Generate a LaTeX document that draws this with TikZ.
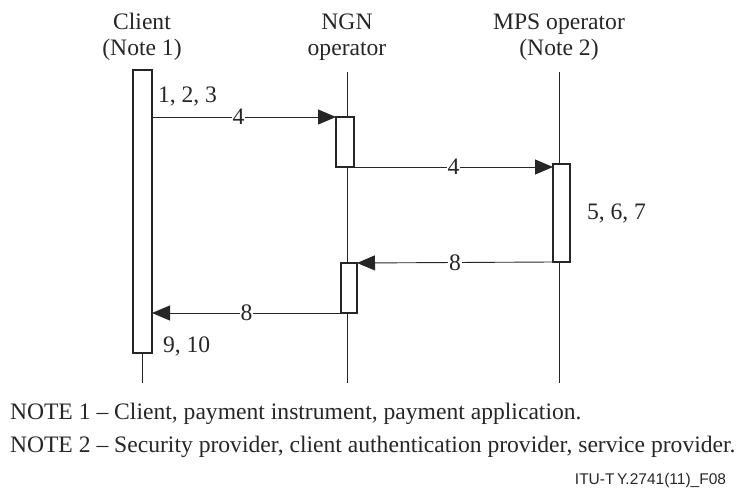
\documentclass[tikz,border=0pt]{standalone}
\usepackage{fontspec}
\setmainfont{Liberation Serif}
\newfontfamily\itusans{Liberation Sans}
\usetikzlibrary{arrows.meta}
\definecolor{ink}{HTML}{262626}
\begin{document}
\begin{tikzpicture}[x=1pt,y=-1pt,
  every node/.style={inner sep=0pt,outer sep=0pt,text=ink},
  txt/.style={font=\fontsize{23.6}{25.5}\selectfont},
  act/.style={draw=ink,line width=1.3pt,fill=white,rectangle},
  life/.style={draw=ink,line width=0.9pt},
  msg/.style={draw=ink,line width=0.9pt,-{Triangle[length=18pt,width=15pt]}},
  lbl/.style={txt,fill=white,inner xsep=1pt,inner ysep=0pt}]
\useasboundingbox (0,0) rectangle (737,490);
% headers
\node[txt,align=center,anchor=base] (hc) at (142,55) {Client\\(Note 1)};
\node[txt,align=center,anchor=base] (hn) at (347,55) {NGN\\operator};
\node[txt,align=center,anchor=base] (hm) at (559,55) {MPS operator\\(Note 2)};
% lifeline ends
\coordinate (ct) at (142,353);
\coordinate (cb) at (142,383);
\coordinate (nt) at (347,72);
\coordinate (nb) at (347,383);
\coordinate (mt) at (559,72);
\coordinate (mb) at (559,383);
\draw[life] (ct) -- (cb);
\draw[life] (nt) -- (nb);
\draw[life] (mt) -- (mb);
% activation boxes
\node[act,minimum width=19pt,minimum height=283pt] (cbox) at (142.5,211.5) {};
\node[act,minimum width=18pt,minimum height=50pt] (n1) at (345,142) {};
\node[act,minimum width=16pt,minimum height=50pt] (n2) at (349,288) {};
\node[act,minimum width=17pt,minimum height=98pt] (mbox) at (561.5,213) {};
% messages
\draw[msg] (cbox.east |- 0,117) -- node[lbl,pos=0.47] (l1) {4} (n1.north west);
\draw[msg] (n1.south east) -- node[lbl,pos=0.5] (l2) {4} (mbox.west |- 0,167);
\draw[msg] (mbox.south west) -- node[lbl,pos=0.5] (l3) {8} (n2.north east);
\draw[msg] (n2.south west) -- node[lbl,pos=0.5] (l4) {8} (cbox.east |- 0,313);
% step labels
\node[txt,anchor=base west] (s123) at (158,102) {1, 2, 3};
\node[txt,anchor=base west] (s567) at (587,219) {5, 6, 7};
\node[txt,anchor=base west] (s910) at (163,352) {9, 10};
% notes
\node[txt,anchor=base west] (note1) at (10,419) {NOTE 1 -- Client, payment instrument, payment application.};
\node[txt,anchor=base west] (note2) at (10,452) {NOTE 2 -- Security provider, client authentication provider, service provider.};
\node[font=\itusans\fontsize{15.5}{16}\selectfont,anchor=base east] (itu) at (726,484) {ITU-T\,Y.2741(11)\_F08};
\end{tikzpicture}
\end{document}
